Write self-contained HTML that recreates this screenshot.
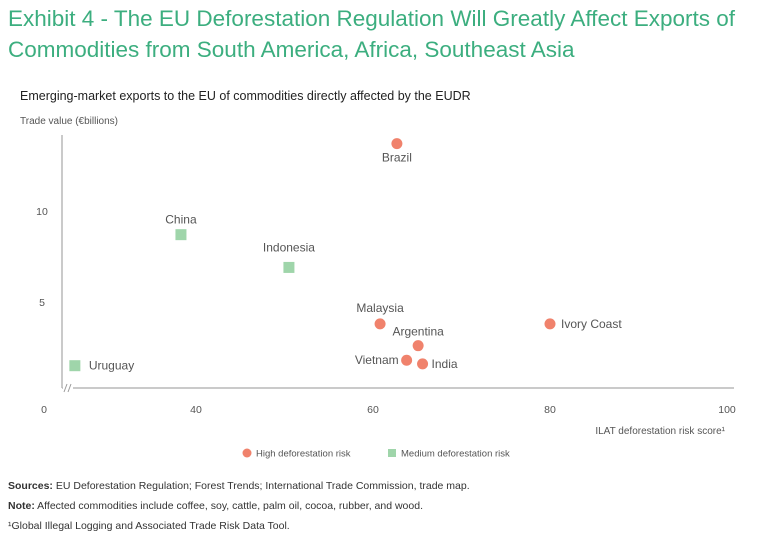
<!DOCTYPE html>
<html><head><meta charset="utf-8"><style>
body{margin:0;background:#fff;width:768px;height:559px;overflow:hidden;font-family:"Liberation Sans",sans-serif}
.t{position:absolute;left:8px;top:3px;color:#3cae7f;font-size:22.5px;line-height:31px;width:760px}
.n{position:absolute;left:8px;font-size:10.5px;color:#333}
</style></head><body>
<div class="t">Exhibit 4 - The EU Deforestation Regulation Will Greatly Affect Exports of Commodities from South America, Africa, Southeast Asia</div>
<svg width="768" height="559" style="position:absolute;left:0;top:0">
<text x="20" y="100" font-size="12.5" fill="#222">Emerging-market exports to the EU of commodities directly affected by the EUDR</text>
<text x="20" y="124" font-size="10" fill="#555">Trade value (€billions)</text>
<line x1="62" y1="135" x2="62" y2="388" stroke="#b8b8b8" stroke-width="1.5"/>
<line x1="62" y1="388" x2="734" y2="388" stroke="#b8b8b8" stroke-width="1.5"/>
<rect x="63" y="383" width="10" height="10" fill="#fff"/>
<line x1="64" y1="392" x2="67" y2="384" stroke="#999"/>
<line x1="68" y1="392" x2="71" y2="384" stroke="#999"/>
<g id="yt"></g><g id="xt"></g><g id="pts"></g>
<text x="725" y="434" font-size="10" fill="#555" text-anchor="end">ILAT deforestation risk score¹</text>
<circle cx="247" cy="453" r="4.5" fill="#f0826c"/>
<text x="256" y="456.5" font-size="9.5" fill="#555">High deforestation risk</text>
<rect x="388" y="449" width="8" height="8" fill="#9fd5aa"/>
<text x="401" y="456.5" font-size="9.5" fill="#555">Medium deforestation risk</text>
</svg>
<div class="n" style="top:480px"><b>Sources:</b> EU Deforestation Regulation; Forest Trends; International Trade Commission, trade map.</div>
<div class="n" style="top:500px"><b>Note:</b> Affected commodities include coffee, soy, cattle, palm oil, cocoa, rubber, and wood.</div>
<div class="n" style="top:520px">¹Global Illegal Logging and Associated Trade Risk Data Tool.</div>
<script>
const countries=["Brazil","China","Indonesia","Malaysia","Ivory Coast","Argentina","Vietnam","India","Uruguay"];
const riskScore=[62.7,38.3,50.5,60.8,80,65.1,63.8,65.6,10];
const tradeValue=[13.7,8.7,6.9,3.8,3.8,2.6,1.8,1.6,1.5];
const riskLevel=["high","medium","medium","high","high","high","high","high","medium"];
const xTicks=[0,40,60,80,100];
const yTicks=[5,10];
const ns="http://www.w3.org/2000/svg";
function sx(v){return v>=35?196+(v-40)*8.85:44+v*(152-44)/35;}
function sy(v){return 393-v*18.2;}
const labelPos={"Brazil":[0,18,"middle"],"China":[0,-11,"middle"],"Indonesia":[0,-16,"middle"],"Malaysia":[0,-12,"middle"],"Ivory Coast":[11,4,"start"],"Argentina":[0,-10,"middle"],"Vietnam":[-8,4,"end"],"India":[9,4,"start"],"Uruguay":[14,4,"start"]};
function mk(tag,a,p){const e=document.createElementNS(ns,tag);for(const k in a)e.setAttribute(k,a[k]);p.appendChild(e);return e;}
const yt=document.getElementById('yt'),xt=document.getElementById('xt'),pts=document.getElementById('pts');
yTicks.forEach(v=>{const t=mk('text',{x:42,y:sy(v)+4,'font-size':10.5,fill:'#555','text-anchor':'middle'},yt);t.textContent=v;

});
xTicks.forEach(v=>{const t=mk('text',{x:v===0?44:sx(v),y:413,'font-size':10.5,fill:'#555','text-anchor':'middle'},xt);t.textContent=v;

});
countries.forEach((c,i)=>{const x=sx(riskScore[i]),y=sy(tradeValue[i]);let m;
if(riskLevel[i]==="high")m=mk('circle',{cx:x,cy:y,r:5.5,fill:'#f0826c'},pts);
else m=mk('rect',{x:x-5.5,y:y-5.5,width:11,height:11,fill:'#9fd5aa'},pts);


const lp=labelPos[c];const t=mk('text',{x:x+lp[0],y:y+lp[1],'font-size':12,fill:'#555','text-anchor':lp[2]},pts);t.textContent=c;

});
</script>
</body></html>
